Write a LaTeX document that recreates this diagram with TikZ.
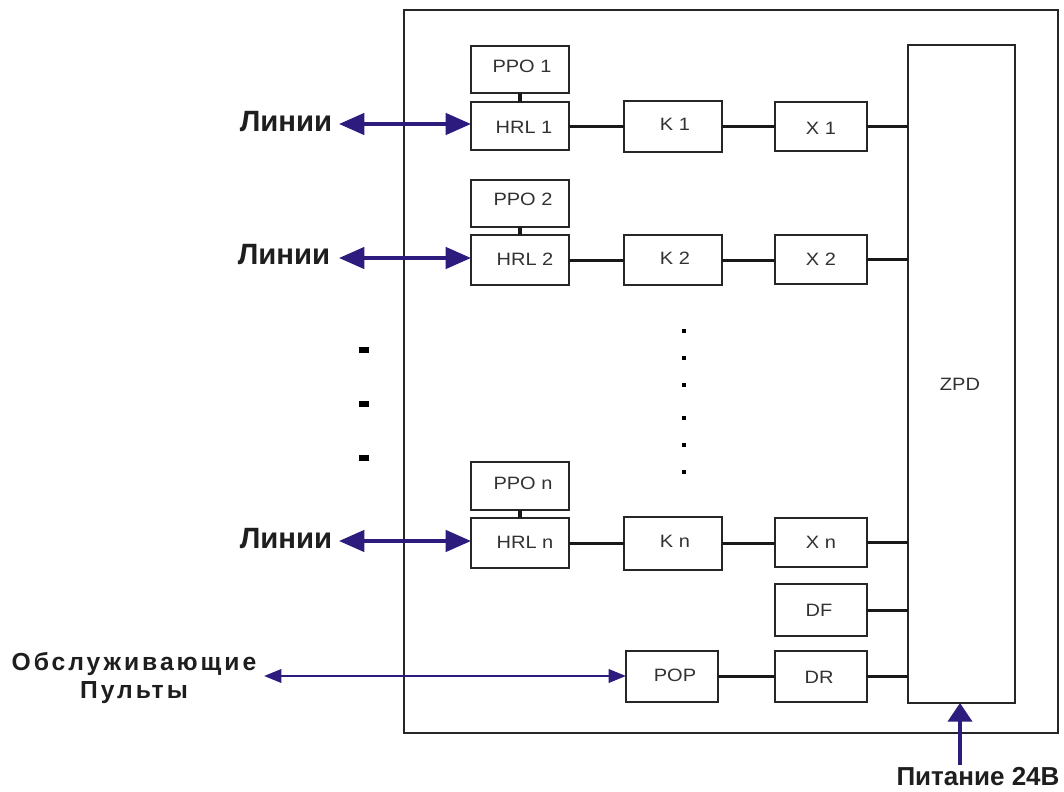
\documentclass[tikz,border=0pt]{standalone}
\usepackage{fontspec}
\setmainfont{Liberation Sans}
\newfontfamily\blockfont[FakeStretch=1.12]{Liberation Sans}
\usetikzlibrary{arrows.meta}
\definecolor{arrowblue}{RGB}{45,27,125}
\definecolor{boxtext}{RGB}{50,50,50}
\definecolor{labeltext}{RGB}{30,30,30}
\newcommand{\pxbox}[5]{\node[blockbox,minimum width=#4*0.75pt,minimum height=#5*0.75pt,anchor=north west] (#1) at (#2,#3) {};}
\tikzset{
 blockbox/.style={draw=black!85,line width=1.6pt,fill=white,inner sep=0pt,outer sep=0pt},
 wire/.style={draw=black!90,line width=2.25pt},
 stub/.style={draw=black!90,line width=3.4pt},
 biglink/.style={draw=arrowblue,line width=2.6pt,{Triangle[length=19pt,width=16pt]}-{Triangle[length=19pt,width=16pt]}},
 smalllink/.style={draw=arrowblue,line width=1.9pt,{Triangle[length=13pt,width=10pt]}-{Triangle[length=13pt,width=10pt]}},
 powerlink/.style={draw=arrowblue,line width=3pt,-{Triangle[length=14pt,width=18pt]}},
 blocklabel/.style={font=\blockfont\fontsize{13.4pt}{15pt}\selectfont,text=boxtext,inner sep=0pt},
 biglabel/.style={font=\bfseries\fontsize{22pt}{25pt}\selectfont,text=labeltext,inner sep=0pt},
 midlabel/.style={font=\bfseries\fontsize{19.5pt}{22pt}\selectfont,text=labeltext,inner sep=0pt,align=center},
 bigdot/.style={fill=black,inner sep=0pt,minimum width=7pt,minimum height=4.5pt},
 tinydot/.style={fill=black,inner sep=0pt,minimum width=2.6pt,minimum height=3pt},
}
\begin{document}
\begin{tikzpicture}[x=0.75pt,y=-0.75pt]
\useasboundingbox[fill=white] (0,0) rectangle (1064,792);
\node[draw=black!85,line width=1.6pt,minimum width=654*0.75pt,minimum height=723*0.75pt,anchor=north west,inner sep=0pt,outer sep=0pt] (outer) at (404,10) {};
\pxbox{zpd}{908}{45}{107}{658}
\pxbox{ppoa}{471}{46}{98}{47}
\pxbox{hrla}{471}{102}{98}{48}
\pxbox{ka}{624}{101}{98}{51}
\pxbox{xa}{775}{102}{92}{49}
\pxbox{ppob}{471}{180}{98}{47}
\pxbox{hrlb}{471}{235}{98}{50}
\pxbox{kb}{624}{235}{98}{50}
\pxbox{xb}{775}{235}{92}{49}
\pxbox{ppon}{471}{462}{98}{48}
\pxbox{hrln}{471}{518}{98}{50}
\pxbox{kn}{624}{517}{98}{53}
\pxbox{xn}{775}{518}{92}{49}
\pxbox{df}{775}{584}{92}{52}
\pxbox{dr}{775}{651}{92}{51}
\pxbox{pop}{626}{651}{92}{51}
% block labels
\node[blocklabel] (tppoa) at (522,66) {PPO 1};
\node[blocklabel] (thrla) at (524,127) {HRL 1};
\node[blocklabel] (tka) at (675,124) {K 1};
\node[blocklabel] (txa) at (821,128) {X 1};
\node[blocklabel] (tppob) at (523,199) {PPO 2};
\node[blocklabel] (thrlb) at (525,259) {HRL 2};
\node[blocklabel] (tkb) at (675,258) {K 2};
\node[blocklabel] (txb) at (821,259) {X 2};
\node[blocklabel] (tppon) at (523,483) {PPO n};
\node[blocklabel] (thrln) at (525,542) {HRL n};
\node[blocklabel] (tkn) at (675,541) {K n};
\node[blocklabel] (txn) at (821,542) {X n};
\node[blocklabel] (tdf) at (819,610) {DF};
\node[blocklabel] (tdr) at (819,677) {DR};
\node[blocklabel] (tpop) at (675,675) {POP};
\node[blocklabel] (tzpd) at (960,384) {ZPD};
% wires
\draw[stub] (ppoa.south) -- (hrla.north);
\draw[stub] (ppob.south) -- (hrlb.north);
\draw[stub] (ppon.south) -- (hrln.north);
\draw[wire] (hrla.east) -- (hrla.east -| ka.west);
\draw[wire] (ka.east) -- (ka.east -| xa.west);
\draw[wire] (xa.east) -- (xa.east -| zpd.west);
\draw[wire] (hrlb.east) -- (hrlb.east -| kb.west);
\draw[wire] (kb.east) -- (kb.east -| xb.west);
\draw[wire] (xb.east) -- (xb.east -| zpd.west);
\draw[wire] (hrln.east) -- (hrln.east -| kn.west);
\draw[wire] (kn.east) -- (kn.east -| xn.west);
\draw[wire] (xn.east) -- (xn.east -| zpd.west);
\draw[wire] (df.east) -- (df.east -| zpd.west);
\draw[wire] (pop.east) -- (pop.east -| dr.west);
\draw[wire] (dr.east) -- (dr.east -| zpd.west);
% external labels
\node[biglabel] (la) at (286,122) {Линии};
\node[biglabel] (lb) at (284,255) {Линии};
\node[biglabel] (ln) at (286,539) {Линии};
\node[midlabel,font=\bfseries\fontsize{18.5pt}{20.5pt}\selectfont] (service) at (134,678) {\addfontfeature{LetterSpace=12}Обслуживающие\\\addfontfeature{LetterSpace=12}Пульты};
\node[midlabel] (power) at (978,777) {Питание 24В};
% free ends
\coordinate (ca) at (339,124);
\coordinate (cb) at (339,258);
\coordinate (cn) at (339,541);
\coordinate (cs) at (264,676);
\coordinate (cp) at (960,765);
\draw[biglink] (ca) -- (ca -| hrla.west);
\draw[biglink] (cb) -- (cb -| hrlb.west);
\draw[biglink] (cn) -- (cn -| hrln.west);
\draw[smalllink] (cs) -- (cs -| pop.west);
\draw[powerlink] (cp) -- (cp |- zpd.south);
% dots
\node[bigdot] (d1) at (364,350) {};
\node[bigdot] (d2) at (364,404) {};
\node[bigdot] (d3) at (364,458) {};
\node[tinydot] (m1) at (684,331) {};
\node[tinydot] (m2) at (684,358) {};
\node[tinydot] (m3) at (684,385) {};
\node[tinydot] (m4) at (684,418) {};
\node[tinydot] (m5) at (684,445) {};
\node[tinydot] (m6) at (684,472) {};
\end{tikzpicture}
\end{document}
